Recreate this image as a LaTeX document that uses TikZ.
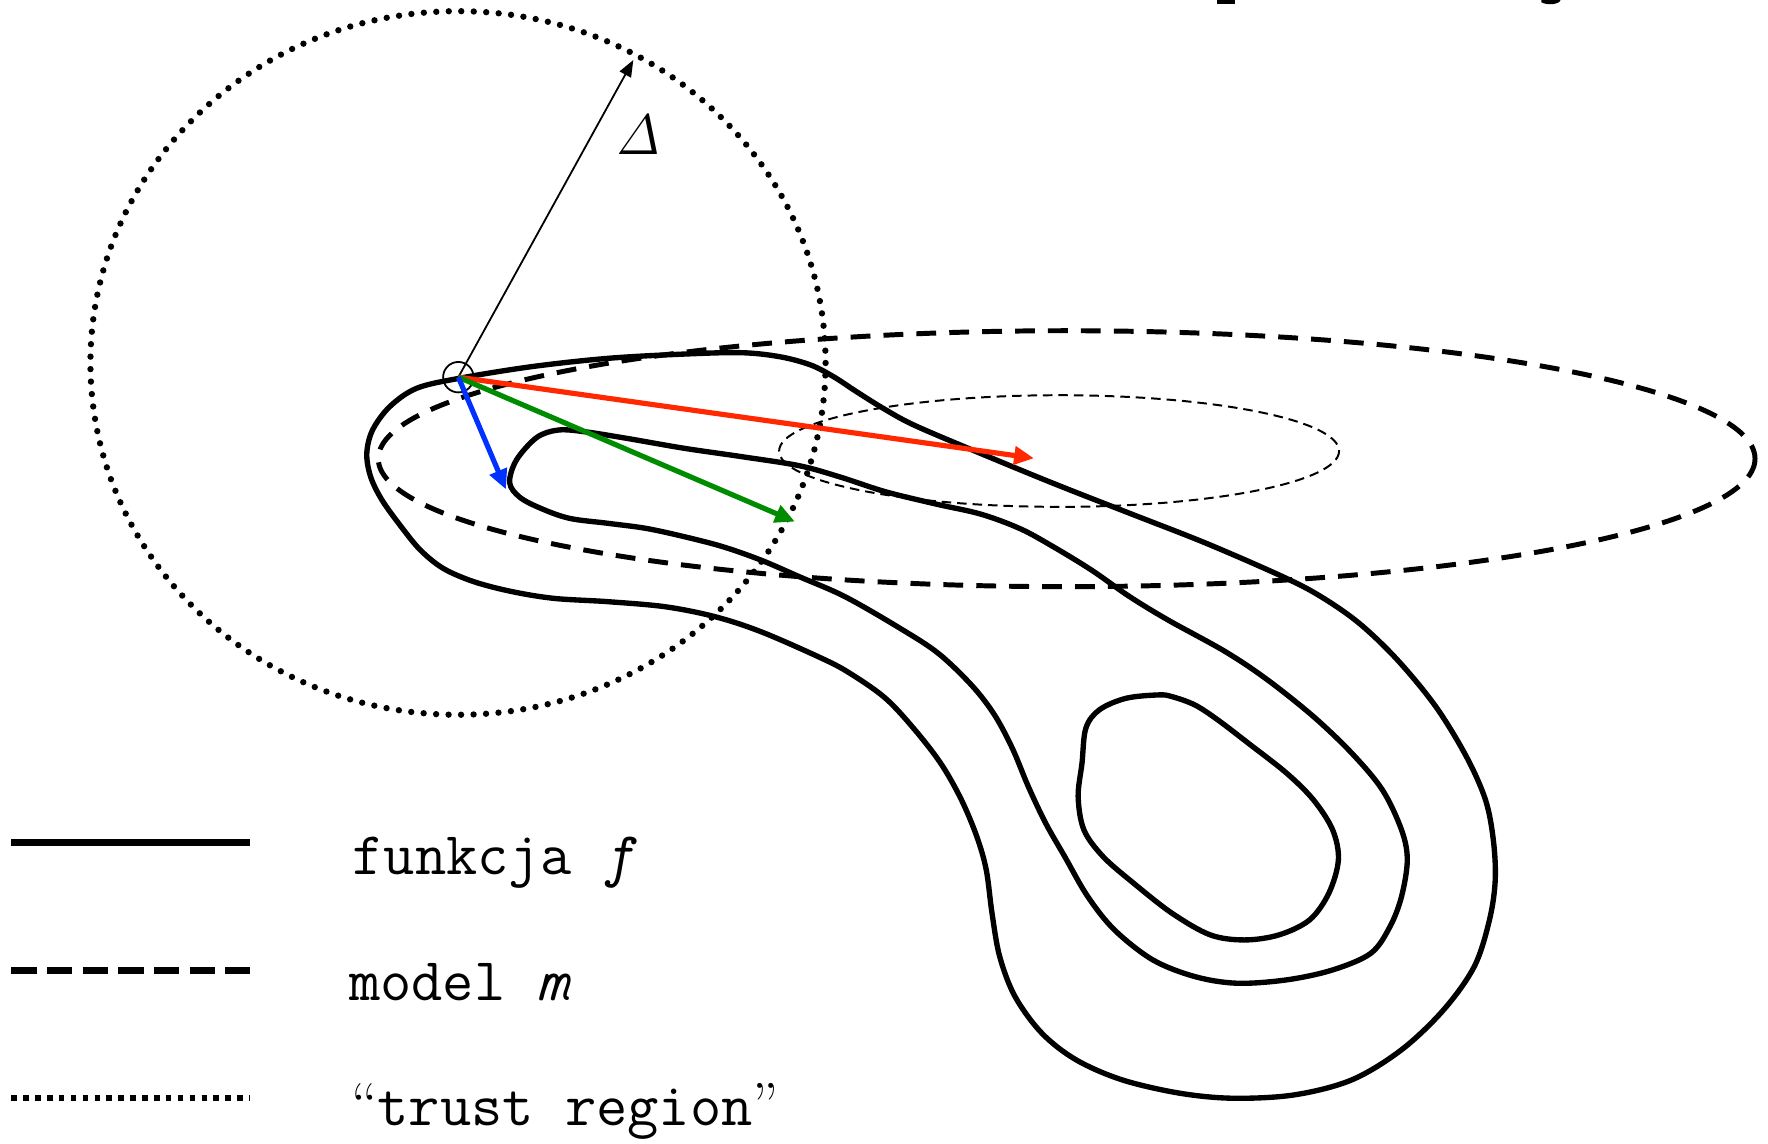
\documentclass[tikz,border=0pt]{standalone}
\usepackage[no-math]{fontspec}
\usetikzlibrary{arrows.meta}
\definecolor{ared}{RGB}{255,40,0}
\definecolor{agreen}{RGB}{0,140,0}
\definecolor{ablue}{RGB}{0,50,255}
\begin{document}
\begin{tikzpicture}[x=0.01cm,y=-0.01cm,
  contour/.style={line width=1.35pt, line join=round},
  modelbig/.style={line width=1.25pt, dash pattern=on 5pt off 3.3pt},
  modelsmall/.style={line width=0.5pt, dash pattern=on 2.4pt off 1.5pt},
  trust/.style={line width=1.6pt, line cap=round, dash pattern=on 0pt off 3.15pt},
  steparrow/.style={line width=1.3pt, -{Triangle[length=5pt,width=4.5pt]}},
  radarrow/.style={line width=0.45pt, -{Triangle[length=4.2pt,width=3.2pt]}},
  legtext/.style={anchor=base west, inner sep=0pt, font=\fontsize{15.3}{17}\selectfont\ttfamily}]
\useasboundingbox (0,0) rectangle (1568,1014);

% cut-off fragments at top edge
\fill (1079,0) rectangle (1095,3.5);
\fill (1367,0) -- (1384,0) .. controls (1383,4) and (1372,5) .. (1367,2) -- cycle;

% trust region
\draw[trust] (406.2,321.9) ellipse [x radius=326, y radius=312];

% model ellipses
\draw[modelbig] (946,406.8) ellipse [x radius=610.5, y radius=113.5];
\draw[modelsmall] (939.3,400) ellipse [x radius=248.3, y radius=49.5];

% contours of f
\draw[contour] plot[smooth cycle, tension=0.55] coordinates {
(406.7,335.6) (471.2,325.2) (539.1,317.8) (607,314) (657.9,312.8) (691.8,316.4)
(719,323.7) (739.3,334.1) (759.7,347.4) (783.4,362.2) (810.6,377) (866,400.6)
(934,428.6) (1001.8,455.2) (1069.7,481.8) (1137.6,511.4) (1171.5,529.1)
(1205.5,552.8) (1239.4,585.3) (1273.4,626.7) (1300.5,671) (1317.5,709.5)
(1324.4,744.9) (1326.1,780.4) (1321,815.8) (1307.5,857.2) (1280.3,895.6)
(1243,931) (1198.9,957.7) (1148,971) (1093.7,974) (1046.1,969.5) (995.2,957.7)
(954.5,940) (924,916.3) (900.2,883.8) (886.6,848.3) (879.8,809.9) (874.7,771.5)
(866.3,741.9) (852.7,709.4) (835,678) (812,648) (785,619) (752,596) (725.7,582.4)
(674.8,560.2) (634.1,546.9) (590,538.1) (539.1,533.6) (491.6,530.7) (454.2,524.7)
(420.3,515.9) (393.1,504.1) (372.8,487.8) (355.8,467.1) (338.8,443.5)
(328.7,422.8) (325.3,402.1) (330.4,381.4) (345.6,360.7) (369.4,344.4)};

\draw[contour] plot[smooth cycle, tension=0.55] coordinates {
(452,428) (458,408) (476,388) (495,381.4) (518.7,382.9) (556.1,388.8)
(607,397.6) (657.9,405) (708.8,413) (745,423) (785,436) (830,447)
(870,456) (905,469) (934,484.8) (967.9,505.5) (1001.8,529.1)
(1035.8,549.8) (1086.7,577.9) (1124.2,603) (1164.9,635.5) (1198.9,668)
(1226,700.5) (1243,736) (1248.1,762.6) (1243,795.1) (1232.8,821.7)
(1215.8,845.4) (1181.9,860.2) (1141.2,869) (1097.1,872) (1059.7,866.1)
(1022.4,851.3) (988.4,824.7) (964.7,795.1) (944.3,759.7) (927.4,730.1)
(912,697.6) (898,664) (882,634) (862,608) (832.1,579.4) (798.2,557.2)
(749.5,529.2) (708.8,511.4) (674.8,496.7) (640.9,484.8) (607,476) (573,468.6)
(539.1,464.1) (505.1,459.7) (480,451) (461,441)};

\draw[contour] plot[smooth cycle, tension=0.55] coordinates {
(1027.5,616.3) (998.6,619.3) (974.9,629.6) (963,645.9) (959.6,676.9)
(956.2,706.5) (961.3,736) (978.3,759.7) (1005.4,783.3) (1039.4,809.9)
(1073.3,829.1) (1103.8,833.6) (1134.4,829.1) (1161.5,815.8) (1178.5,792.2)
(1187,762.6) (1181.9,736) (1164.9,709.4) (1141.2,685.8) (1107.2,659.2)
(1080.1,638.5) (1059.7,625.2) (1039.4,617.8)};

% start point and steps
\node[draw, circle, line width=0.45pt, minimum size=0.27cm, inner sep=0pt] (s) at (406.5,334.5) {};
\coordinate (rtip) at (917,406.4);
\coordinate (gtip) at (705,462.6);
\coordinate (btip) at (448.7,434);
\coordinate (dtip) at (561.7,53.2);
\draw[radarrow] (s.center) -- (dtip);
\node[inner sep=0pt, font=\fontsize{13.5}{15}\selectfont] (delta) at (566.5,120) {$\mathit{\Delta}$};
\draw[steparrow, color=ared] (s.center) -- (rtip);
\draw[steparrow, color=agreen] (s.center) -- (gtip);
\draw[steparrow, color=ablue] (s.center) -- (btip);

% legend
\coordinate (l1a) at (10,747.3); \coordinate (l1b) at (221.7,747.3);
\coordinate (l2a) at (10,860.8); \coordinate (l2b) at (221.7,860.8);
\coordinate (l3a) at (10,973.5); \coordinate (l3b) at (221.7,973.5);
\draw[line width=1.6pt] (l1a) -- (l1b);
\draw[line width=1.6pt, dash pattern=on 6.4pt off 2.6pt] (l2a) -- (l2b);
\draw[line width=1.5pt, dash pattern=on 1.4pt off 1.6pt] (l3a) -- (l3b);
\node[legtext] (t1) at (312,776) {funkcja {\itshape f}};
\node[legtext] (t2) at (309,887) {model {\itshape m}};
\node[legtext] (t3) at (311,998) {{\rmfamily “}trust region{\rmfamily ”}};
\end{tikzpicture}
\end{document}
